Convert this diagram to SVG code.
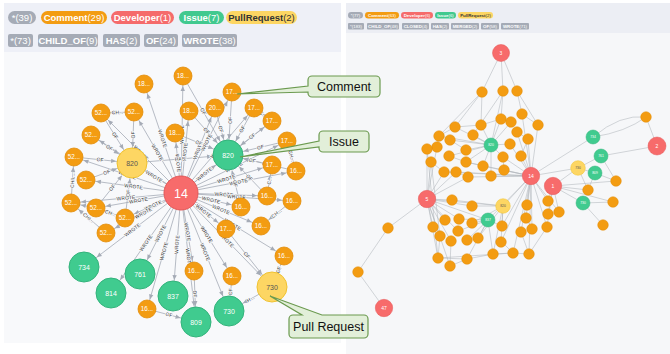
<svg xmlns="http://www.w3.org/2000/svg" width="670" height="354" viewBox="0 0 670 354">
<style>
text{font-family:"Liberation Sans",Arial,Helvetica,sans-serif}
.pt{font-size:9.5px;fill:#fff;text-anchor:middle}
.pts{font-size:4.4px;fill:#fff;text-anchor:middle}
.dk{fill:#333}
.g{fill:#a5abb6}.o{fill:#f39c12}.r{fill:#f56b6b}.gr{fill:#41c98f}.y{fill:#fdd663}
.e{fill:none;stroke:#a5abb6;stroke-width:0.8}
.mcE{marker-end:url(#mc)}.mcS{marker-start:url(#mc)}.mnE{marker-end:url(#mn)}.mnS{marker-start:url(#mn)}
.el{font-size:5px;fill:#333;stroke:#f8f9fb;stroke-width:1.4;paint-order:stroke;text-anchor:middle}
.cm{fill:#f39c12;stroke:#e28c06;stroke-width:0.8}
.is{fill:#40cb8f;stroke:#33b37b;stroke-width:1}
.pr{fill:#fdd663;stroke:#f0c230;stroke-width:1}
.dv{fill:#f76b6b;stroke:#e45757;stroke-width:1}
.nl{font-size:6.3px;fill:#fff;text-anchor:middle}
.nlb{font-size:7px;fill:#fff;text-anchor:middle}
.nld{font-size:7px;fill:#555;text-anchor:middle}
.re{stroke:#b1b5bc;stroke-width:0.55;fill:none}
.rcm{fill:#f39c12;stroke:#e28c06;stroke-width:0.5}
.ris{fill:#40cb8f;stroke:#33b37b;stroke-width:0.5}
.rpr{fill:#fdd663;stroke:#f0c230;stroke-width:0.5}
.rdv{fill:#f76b6b;stroke:#e45757;stroke-width:0.5}
.rl{font-size:5px;fill:#fff;text-anchor:middle}
.rls{font-size:3.4px;fill:#fff;text-anchor:middle}
.rld{font-size:3.4px;fill:#555;text-anchor:middle}
.co{fill:#e2efd9;stroke:#6b9a4f;stroke-width:1.2}
.ct{font-size:12.5px;fill:#111;text-anchor:middle}
</style>
<defs>
<marker id="mc" markerUnits="userSpaceOnUse" markerWidth="10" markerHeight="10" refX="10" refY="0" orient="auto-start-reverse" overflow="visible"><path d="M0,0 L-5,-2.2 L-5,2.2 Z" fill="#a5abb6"/></marker>
<marker id="mn" markerUnits="userSpaceOnUse" markerWidth="10" markerHeight="10" refX="16" refY="0" orient="auto-start-reverse" overflow="visible"><path d="M0,0 L-5,-2.2 L-5,2.2 Z" fill="#a5abb6"/></marker>
</defs>
<rect width="670" height="354" fill="#ffffff"/>
<rect x="4" y="3" width="337" height="340" fill="#f8f9fb"/>
<rect x="4" y="3" width="337" height="49" fill="#eef0f7"/>
<rect x="346" y="3" width="324" height="351" fill="#f6f7f9"/>
<rect x="346" y="3" width="324" height="30" fill="#eceef4"/>

<g id="legend-left">
<rect class="g" x="8" y="11" width="28" height="13" rx="6.5"/><text class="pt" x="22" y="21">*(39)</text>
<rect class="o" x="41" y="11" width="66" height="13" rx="6.5"/><text class="pt" x="74" y="21"><tspan font-weight="bold">Comment</tspan>(29)</text>
<rect class="r" x="111" y="11" width="63" height="13" rx="6.5"/><text class="pt" x="142.5" y="21"><tspan font-weight="bold">Developer</tspan>(1)</text>
<rect class="gr" x="179" y="11" width="45" height="13" rx="6.5"/><text class="pt" x="201.5" y="21"><tspan font-weight="bold">Issue</tspan>(7)</text>
<rect class="y" x="226" y="11" width="71" height="13" rx="6.5"/><text class="pt dk" x="261.5" y="21"><tspan font-weight="bold">PullRequest</tspan>(2)</text>
<rect class="g" x="8" y="34" width="25" height="13" rx="2"/><text class="pt" x="20.5" y="44">*(73)</text>
<rect class="g" x="38" y="34" width="60" height="13" rx="2"/><text class="pt" x="68" y="44"><tspan font-weight="bold">CHILD_OF</tspan>(9)</text>
<rect class="g" x="103" y="34" width="37" height="13" rx="2"/><text class="pt" x="121.5" y="44"><tspan font-weight="bold">HAS</tspan>(2)</text>
<rect class="g" x="144" y="34" width="34" height="13" rx="2"/><text class="pt" x="161" y="44"><tspan font-weight="bold">OF</tspan>(24)</text>
<rect class="g" x="182" y="34" width="55" height="13" rx="2"/><text class="pt" x="209.5" y="44"><tspan font-weight="bold">WROTE</tspan>(38)</text>
</g>

<g id="legend-right">
<rect class="g" x="348" y="12" width="15" height="6.5" rx="3.25"/><text class="pts" x="355.5" y="16.8">*(77)</text>
<rect class="o" x="365" y="12" width="34" height="6.5" rx="3.25"/><text class="pts" x="382" y="16.8"><tspan font-weight="bold">Comment</tspan>(63)</text>
<rect class="r" x="401" y="12" width="32" height="6.5" rx="3.25"/><text class="pts" x="417" y="16.8"><tspan font-weight="bold">Developer</tspan>(6)</text>
<rect class="gr" x="435" y="12" width="21" height="6.5" rx="3.25"/><text class="pts" x="445.5" y="16.8"><tspan font-weight="bold">Issue</tspan>(6)</text>
<rect class="y" x="458" y="12" width="35" height="6.5" rx="3.25"/><text class="pts dk" x="475.5" y="16.8"><tspan font-weight="bold">PullRequest</tspan>(2)</text>
<rect class="g" x="348" y="23" width="16" height="6.5" rx="1"/><text class="pts" x="356" y="27.8">*(183)</text>
<rect class="g" x="367" y="23" width="32" height="6.5" rx="1"/><text class="pts" x="383" y="27.8"><tspan font-weight="bold">CHILD_OF</tspan>(48)</text>
<rect class="g" x="402" y="23" width="27" height="6.5" rx="1"/><text class="pts" x="415.5" y="27.8"><tspan font-weight="bold">CLOSED</tspan>(4)</text>
<rect class="g" x="431" y="23" width="18" height="6.5" rx="1"/><text class="pts" x="440" y="27.8"><tspan font-weight="bold">HAS</tspan>(2)</text>
<rect class="g" x="451" y="23" width="28" height="6.5" rx="1"/><text class="pts" x="465" y="27.8"><tspan font-weight="bold">MERGED</tspan>(2)</text>
<rect class="g" x="481" y="23" width="18" height="6.5" rx="1"/><text class="pts" x="490" y="27.8"><tspan font-weight="bold">OF</tspan>(58)</text>
<rect class="g" x="501" y="23" width="28" height="6.5" rx="1"/><text class="pts" x="515" y="27.8"><tspan font-weight="bold">WROTE</tspan>(71)</text>
</g>

<g id="connectors-left">
<path id="w1" class="e mcS" d="M144 84 L181 193"/>
<path id="w2" class="e mcE" d="M181 193 L183 76"/>
<path id="w3" class="e mcS" d="M134 112 L181 193"/>
<path id="w4" class="e mcS" d="M101 113 L181 193"/>
<path id="w5" class="e mcE" d="M181 193 L189 111"/>
<path id="w6" class="e mcS" d="M91 135 L181 193"/>
<path id="w7" class="e mcS" d="M175 133 L181 193"/>
<path id="w8" class="e mcS" d="M74 157 L181 193"/>
<path id="w9" class="e mcS" d="M86 180 L181 193"/>
<path id="w10" class="e mcS" d="M71 203 L181 193"/>
<path id="w11" class="e mcS" d="M96 208 L181 193"/>
<path id="w12" class="e mcS" d="M125 218 L181 193"/>
<path id="w13" class="e mcS" d="M106 233 L181 193"/>
<path id="w14" class="e mcE" d="M181 193 L232 92"/>
<path id="w15" class="e mcE" d="M181 193 L215 108"/>
<path id="w16" class="e mcE" d="M181 193 L254 108"/>
<path id="w17" class="e mcE" d="M181 193 L272 121"/>
<path id="w18" class="e mcE" d="M181 193 L287 141"/>
<path id="w19" class="e mcE" d="M181 193 L272 165"/>
<path id="w20" class="e mcE" d="M181 193 L296 171"/>
<path id="w21" class="e mcE" d="M181 193 L267 196"/>
<path id="w22" class="e mcE" d="M181 193 L292 201"/>
<path id="w23" class="e mcE" d="M181 193 L241 207"/>
<path id="w24" class="e mcE" d="M181 193 L261 226"/>
<path id="w25" class="e mcE" d="M181 193 L226 229"/>
<path id="w26" class="e mcE" d="M181 193 L284 256"/>
<path id="w27" class="e mcE" d="M181 193 L194 271"/>
<path id="w28" class="e mcE" d="M181 193 L232 276"/>
<path id="w29" class="e mcS" d="M147 309 L181 193"/>
<path id="w30" class="e mnS" d="M132 163 L181 193"/>
<path id="w31" class="e mnE" d="M181 193 L272 287"/>
<path id="w32" class="e mnE" d="M181 193 L228 155"/>
<path id="w33" class="e mnS" d="M84 267 L181 193"/>
<path id="w34" class="e mnS" d="M140 274 L181 193"/>
<path id="w35" class="e mnS" d="M111 293 L181 193"/>
<path id="w36" class="e mnS" d="M173 296 L181 193"/>
<path id="w37" class="e mnE" d="M181 193 L196 322"/>
<path id="w38" class="e mnE" d="M181 193 L229 311"/>
<path id="o1" class="e mnS" d="M132 163 L134 112"/>
<path id="o2" class="e mnE" d="M101 113 L132 163"/>
<path id="o3" class="e mnE" d="M91 135 L132 163"/>
<path id="o4" class="e mnE" d="M74 157 L132 163"/>
<path id="o5" class="e mnE" d="M86 180 L132 163"/>
<path id="o6" class="e mnE" d="M96 208 L132 163"/>
<path id="o7" class="e mnE" d="M125 218 L132 163"/>
<path id="o8" class="e mnE" d="M183 76 L228 155"/>
<path id="o9" class="e mnE" d="M189 111 L228 155"/>
<path id="o10" class="e mnE" d="M175 133 L228 155"/>
<path id="o11" class="e mnS" d="M228 155 L232 92"/>
<path id="o12" class="e mnE" d="M215 108 L228 155"/>
<path id="o13" class="e mnS" d="M228 155 L254 108"/>
<path id="o14" class="e mnS" d="M228 155 L272 121"/>
<path id="o15" class="e mnS" d="M228 155 L287 141"/>
<path id="o16" class="e mnS" d="M228 155 L272 165"/>
<path id="o17" class="e mnS" d="M228 155 L296 171"/>
<path id="o18" class="e mnS" d="M228 155 L267 196"/>
<path id="o19" class="e mnS" d="M228 155 L241 207"/>
<path id="o20" class="e mnE" d="M147 309 L196 322"/>
<path id="o21" class="e mnE" d="M194 271 L196 322"/>
<path id="o22" class="e mnS" d="M229 311 L232 276"/>
<path id="o23" class="e mnE" d="M226 229 L272 287"/>
<path id="o24" class="e mnS" d="M272 287 L284 256"/>
<path id="h1" class="e mcS" d="M101 113 L134 112"/>
<path id="h2" class="e mcE" d="M71 203 L74 157"/>
<path id="h3" class="e mcS" d="M71 203 L96 208"/>
<path id="h4" class="e mcS" d="M71 203 L106 233"/>
<path id="h5" class="e mcS" d="M96 208 L125 218"/>
<path id="h6" class="e mcS" d="M261 226 L292 201"/>
<path id="h7" class="e mcS" d="M287 141 L296 171"/>
<path id="h8" class="e mcS" d="M254 108 L272 121"/>
<path id="h9" class="e mcE" d="M267 196 L272 165"/>
<path id="s1" class="e mnE" d="M132 163 L228 155"/>
<path id="s2" class="e mnS" d="M229 311 L272 287"/>
<g id="edge-labels">
<text class="el" dy="1.7"><textPath href="#w1" startOffset="50%">WROTE</textPath></text>
<text class="el" dy="1.7"><textPath href="#w2" startOffset="50%">WROTE</textPath></text>
<text class="el" dy="1.7"><textPath href="#w3" startOffset="50%">WROTE</textPath></text>
<text class="el" dy="1.7"><textPath href="#w4" startOffset="50%">WROTE</textPath></text>
<text class="el" dy="1.7"><textPath href="#w5" startOffset="50%">WROTE</textPath></text>
<text class="el" dy="1.7"><textPath href="#w6" startOffset="50%">WROTE</textPath></text>
<text class="el" dy="1.7"><textPath href="#w7" startOffset="50%">WROTE</textPath></text>
<text class="el" dy="1.7"><textPath href="#w8" startOffset="50%">WROTE</textPath></text>
<text class="el" dy="1.7"><textPath href="#w9" startOffset="50%">WROTE</textPath></text>
<text class="el" dy="1.7"><textPath href="#w10" startOffset="50%">WROTE</textPath></text>
<text class="el" dy="1.7"><textPath href="#w11" startOffset="50%">WROTE</textPath></text>
<text class="el" dy="1.7"><textPath href="#w12" startOffset="50%">WROTE</textPath></text>
<text class="el" dy="1.7"><textPath href="#w13" startOffset="50%">WROTE</textPath></text>
<text class="el" dy="1.7"><textPath href="#w14" startOffset="50%">WROTE</textPath></text>
<text class="el" dy="1.7"><textPath href="#w15" startOffset="50%">WROTE</textPath></text>
<text class="el" dy="1.7"><textPath href="#w16" startOffset="50%">WROTE</textPath></text>
<text class="el" dy="1.7"><textPath href="#w17" startOffset="50%">WROTE</textPath></text>
<text class="el" dy="1.7"><textPath href="#w18" startOffset="50%">WROTE</textPath></text>
<text class="el" dy="1.7"><textPath href="#w19" startOffset="50%">WROTE</textPath></text>
<text class="el" dy="1.7"><textPath href="#w20" startOffset="50%">WROTE</textPath></text>
<text class="el" dy="1.7"><textPath href="#w21" startOffset="50%">WROTE</textPath></text>
<text class="el" dy="1.7"><textPath href="#w22" startOffset="50%">WROTE</textPath></text>
<text class="el" dy="1.7"><textPath href="#w23" startOffset="50%">WROTE</textPath></text>
<text class="el" dy="1.7"><textPath href="#w24" startOffset="50%">WROTE</textPath></text>
<text class="el" dy="1.7"><textPath href="#w25" startOffset="50%">WROTE</textPath></text>
<text class="el" dy="1.7"><textPath href="#w26" startOffset="50%">WROTE</textPath></text>
<text class="el" dy="1.7"><textPath href="#w27" startOffset="50%">WROTE</textPath></text>
<text class="el" dy="1.7"><textPath href="#w28" startOffset="50%">WROTE</textPath></text>
<text class="el" dy="1.7"><textPath href="#w29" startOffset="50%">WROTE</textPath></text>
<text class="el" dy="1.7"><textPath href="#w30" startOffset="45%">WROTE</textPath></text>
<text class="el" dy="1.7"><textPath href="#w31" startOffset="50%">WROTE</textPath></text>
<text class="el" dy="1.7"><textPath href="#w32" startOffset="50%">WROTE</textPath></text>
<text class="el" dy="1.7"><textPath href="#w33" startOffset="50%">WROTE</textPath></text>
<text class="el" dy="1.7"><textPath href="#w34" startOffset="50%">WROTE</textPath></text>
<text class="el" dy="1.7"><textPath href="#w35" startOffset="50%">WROTE</textPath></text>
<text class="el" dy="1.7"><textPath href="#w36" startOffset="50%">WROTE</textPath></text>
<text class="el" dy="1.7"><textPath href="#w37" startOffset="50%">WROTE</textPath></text>
<text class="el" dy="1.7"><textPath href="#w38" startOffset="50%">WROTE</textPath></text>
<text class="el" dy="1.7"><textPath href="#o1" startOffset="55%">OF</textPath></text>
<text class="el" dy="1.7"><textPath href="#o2" startOffset="45%">OF</textPath></text>
<text class="el" dy="1.7"><textPath href="#o3" startOffset="45%">OF</textPath></text>
<text class="el" dy="1.7"><textPath href="#o4" startOffset="45%">OF</textPath></text>
<text class="el" dy="1.7"><textPath href="#o5" startOffset="45%">OF</textPath></text>
<text class="el" dy="1.7"><textPath href="#o6" startOffset="45%">OF</textPath></text>
<text class="el" dy="1.7"><textPath href="#o7" startOffset="45%">OF</textPath></text>
<text class="el" dy="1.7"><textPath href="#o8" startOffset="45%">OF</textPath></text>
<text class="el" dy="1.7"><textPath href="#o9" startOffset="45%">OF</textPath></text>
<text class="el" dy="1.7"><textPath href="#o10" startOffset="45%">OF</textPath></text>
<text class="el" dy="1.7"><textPath href="#o11" startOffset="55%">OF</textPath></text>
<text class="el" dy="1.7"><textPath href="#o12" startOffset="45%">OF</textPath></text>
<text class="el" dy="1.7"><textPath href="#o13" startOffset="55%">OF</textPath></text>
<text class="el" dy="1.7"><textPath href="#o14" startOffset="55%">OF</textPath></text>
<text class="el" dy="1.7"><textPath href="#o15" startOffset="55%">OF</textPath></text>
<text class="el" dy="1.7"><textPath href="#o16" startOffset="55%">OF</textPath></text>
<text class="el" dy="1.7"><textPath href="#o17" startOffset="55%">OF</textPath></text>
<text class="el" dy="1.7"><textPath href="#o18" startOffset="55%">OF</textPath></text>
<text class="el" dy="1.7"><textPath href="#o19" startOffset="55%">OF</textPath></text>
<text class="el" dy="1.7"><textPath href="#o20" startOffset="45%">OF</textPath></text>
<text class="el" dy="1.7"><textPath href="#o21" startOffset="45%">OF</textPath></text>
<text class="el" dy="1.7"><textPath href="#o22" startOffset="55%">OF</textPath></text>
<text class="el" dy="1.7"><textPath href="#o23" startOffset="45%">OF</textPath></text>
<text class="el" dy="1.7"><textPath href="#o24" startOffset="55%">OF</textPath></text>
<text class="el" dy="1.7"><textPath href="#h1" startOffset="50%">CH...</textPath></text>
<text class="el" dy="1.7"><textPath href="#h2" startOffset="50%">CHIL...</textPath></text>
<text class="el" dy="1.7"><textPath href="#h4" startOffset="50%">CHI...</textPath></text>
<text class="el" dy="1.7"><textPath href="#h5" startOffset="50%">CH...</textPath></text>
<text class="el" dy="1.7"><textPath href="#h6" startOffset="50%">CH...</textPath></text>
<text class="el" dy="1.7"><textPath href="#h7" startOffset="50%">CH...</textPath></text>
<text class="el" dy="1.7"><textPath href="#h8" startOffset="50%">C...</textPath></text>
<text class="el" dy="1.7"><textPath href="#h9" startOffset="50%">C...</textPath></text>
<text class="el" dy="1.7"><textPath href="#s1" startOffset="50%">HAS</textPath></text>
<text class="el" dy="1.7"><textPath href="#s2" startOffset="50%">H...</textPath></text>
</g>
</g>

<g id="n-d14"><circle class="dv" cx="181" cy="193" r="17"/><text x="181" y="197.5" font-size="12.5" fill="#fff" text-anchor="middle">14</text></g>
<g id="n-p820"><circle class="pr" cx="132" cy="163" r="15"/><text class="nld" x="132" y="165.5">820</text></g>
<g id="n-p730"><circle class="pr" cx="272" cy="287" r="15"/><text class="nld" x="272" y="289.5">730</text></g>
<g id="n-i820"><circle class="is" cx="228" cy="155" r="15"/><text class="nlb" x="228" y="157.5">820</text></g>
<g id="n-i734"><circle class="is" cx="84" cy="267" r="15"/><text class="nlb" x="84" y="269.5">734</text></g>
<g id="n-i761"><circle class="is" cx="140" cy="274" r="15"/><text class="nlb" x="140" y="276.5">761</text></g>
<g id="n-i814"><circle class="is" cx="111" cy="293" r="15"/><text class="nlb" x="111" y="295.5">814</text></g>
<g id="n-i837"><circle class="is" cx="173" cy="296" r="15"/><text class="nlb" x="173" y="298.5">837</text></g>
<g id="n-i809"><circle class="is" cx="196" cy="322" r="15"/><text class="nlb" x="196" y="324.5">809</text></g>
<g id="n-i730"><circle class="is" cx="229" cy="311" r="15"/><text class="nlb" x="229" y="313.5">730</text></g>
<g id="n-c1"><circle class="cm" cx="144" cy="84" r="9"/><text class="nl" x="144" y="86.2">18...</text></g>
<g id="n-c2"><circle class="cm" cx="183" cy="76" r="9"/><text class="nl" x="183" y="78.2">18...</text></g>
<g id="n-c3"><circle class="cm" cx="134" cy="112" r="9"/><text class="nl" x="134" y="114.2">52...</text></g>
<g id="n-c4"><circle class="cm" cx="101" cy="113" r="9"/><text class="nl" x="101" y="115.2">52...</text></g>
<g id="n-c5"><circle class="cm" cx="189" cy="111" r="9"/><text class="nl" x="189" y="113.2">18...</text></g>
<g id="n-c6"><circle class="cm" cx="91" cy="135" r="9"/><text class="nl" x="91" y="137.2">52...</text></g>
<g id="n-c7"><circle class="cm" cx="175" cy="133" r="9"/><text class="nl" x="175" y="135.2">18...</text></g>
<g id="n-c8"><circle class="cm" cx="74" cy="157" r="9"/><text class="nl" x="74" y="159.2">52...</text></g>
<g id="n-c9"><circle class="cm" cx="86" cy="180" r="9"/><text class="nl" x="86" y="182.2">52...</text></g>
<g id="n-c10"><circle class="cm" cx="71" cy="203" r="9"/><text class="nl" x="71" y="205.2">52...</text></g>
<g id="n-c11"><circle class="cm" cx="96" cy="208" r="9"/><text class="nl" x="96" y="210.2">52...</text></g>
<g id="n-c12"><circle class="cm" cx="125" cy="218" r="9"/><text class="nl" x="125" y="220.2">52...</text></g>
<g id="n-c13"><circle class="cm" cx="106" cy="233" r="9"/><text class="nl" x="106" y="235.2">52...</text></g>
<g id="n-c14"><circle class="cm" cx="232" cy="92" r="9"/><text class="nl" x="232" y="94.2">17...</text></g>
<g id="n-c15"><circle class="cm" cx="215" cy="108" r="9"/><text class="nl" x="215" y="110.2">20...</text></g>
<g id="n-c16"><circle class="cm" cx="254" cy="108" r="9"/><text class="nl" x="254" y="110.2">17...</text></g>
<g id="n-c17"><circle class="cm" cx="272" cy="121" r="9"/><text class="nl" x="272" y="123.2">17...</text></g>
<g id="n-c18"><circle class="cm" cx="287" cy="141" r="9"/><text class="nl" x="287" y="143.2">17...</text></g>
<g id="n-c19"><circle class="cm" cx="272" cy="165" r="9"/><text class="nl" x="272" y="167.2">17...</text></g>
<g id="n-c20"><circle class="cm" cx="296" cy="171" r="9"/><text class="nl" x="296" y="173.2">16...</text></g>
<g id="n-c21"><circle class="cm" cx="267" cy="196" r="9"/><text class="nl" x="267" y="198.2">16...</text></g>
<g id="n-c22"><circle class="cm" cx="292" cy="201" r="9"/><text class="nl" x="292" y="203.2">16...</text></g>
<g id="n-c23"><circle class="cm" cx="241" cy="207" r="9"/><text class="nl" x="241" y="209.2">16...</text></g>
<g id="n-c24"><circle class="cm" cx="261" cy="226" r="9"/><text class="nl" x="261" y="228.2">16...</text></g>
<g id="n-c25"><circle class="cm" cx="226" cy="229" r="9"/><text class="nl" x="226" y="231.2">17...</text></g>
<g id="n-c26"><circle class="cm" cx="284" cy="256" r="9"/><text class="nl" x="284" y="258.2">16...</text></g>
<g id="n-c27"><circle class="cm" cx="194" cy="271" r="9"/><text class="nl" x="194" y="273.2">16...</text></g>
<g id="n-c28"><circle class="cm" cx="232" cy="276" r="9"/><text class="nl" x="232" y="278.2">16...</text></g>
<g id="n-c29"><circle class="cm" cx="147" cy="309" r="9"/><text class="nl" x="147" y="311.2">16...</text></g>

<g id="connectors-right">
<line class="re" x1="501" y1="53" x2="482" y2="92"/><line class="re" x1="501" y1="53" x2="503" y2="91"/><line class="re" x1="501" y1="53" x2="517" y2="91"/>
<line class="re" x1="482" y1="92" x2="455" y2="127"/><line class="re" x1="482" y1="92" x2="439" y2="136"/><line class="re" x1="482" y1="92" x2="481" y2="125"/>
<line class="re" x1="503" y1="91" x2="501" y2="119"/><line class="re" x1="517" y1="91" x2="522" y2="114"/><line class="re" x1="517" y1="91" x2="538" y2="125"/><line class="re" x1="503" y1="91" x2="491" y2="145"/>
<line class="re" x1="491" y1="145" x2="466" y2="150"/><line class="re" x1="491" y1="145" x2="473" y2="135"/><line class="re" x1="491" y1="145" x2="481" y2="125"/><line class="re" x1="491" y1="145" x2="501" y2="119"/><line class="re" x1="491" y1="145" x2="503" y2="157"/><line class="re" x1="491" y1="145" x2="483" y2="166"/><line class="re" x1="491" y1="145" x2="510" y2="144"/><line class="re" x1="491" y1="145" x2="491" y2="176"/><line class="re" x1="491" y1="145" x2="449" y2="156"/><line class="re" x1="491" y1="145" x2="450" y2="140"/><line class="re" x1="491" y1="145" x2="455" y2="127"/><line class="re" x1="491" y1="145" x2="466" y2="162"/><line class="re" x1="491" y1="145" x2="511" y2="122"/><line class="re" x1="491" y1="145" x2="439" y2="136"/>
<line class="re" x1="531" y1="176" x2="538" y2="125"/><line class="re" x1="531" y1="176" x2="517" y2="132"/><line class="re" x1="531" y1="176" x2="528" y2="139"/><line class="re" x1="531" y1="176" x2="521" y2="156"/><line class="re" x1="531" y1="176" x2="504" y2="170"/><line class="re" x1="531" y1="176" x2="491" y2="176"/><line class="re" x1="531" y1="176" x2="510" y2="144"/><line class="re" x1="531" y1="176" x2="503" y2="157"/><line class="re" x1="531" y1="176" x2="522" y2="114"/><line class="re" x1="531" y1="176" x2="593" y2="137"/><line class="re" x1="531" y1="176" x2="578" y2="168"/><line class="re" x1="531" y1="176" x2="527" y2="205"/><line class="re" x1="531" y1="176" x2="548" y2="201"/><line class="re" x1="531" y1="176" x2="526" y2="218"/><line class="re" x1="531" y1="176" x2="532" y2="229"/><line class="re" x1="531" y1="176" x2="547" y2="227"/><line class="re" x1="531" y1="176" x2="521" y2="232"/><line class="re" x1="531" y1="176" x2="503" y2="206"/><line class="re" x1="531" y1="176" x2="502" y2="226"/><line class="re" x1="531" y1="176" x2="468" y2="177"/><line class="re" x1="531" y1="176" x2="483" y2="166"/><line class="re" x1="531" y1="176" x2="466" y2="162"/><line class="re" x1="531" y1="176" x2="456" y2="172"/><line class="re" x1="531" y1="176" x2="488" y2="220"/><line class="re" x1="531" y1="176" x2="559" y2="212"/><line class="re" x1="531" y1="176" x2="513" y2="253"/><line class="re" x1="531" y1="176" x2="529" y2="254"/><line class="re" x1="531" y1="176" x2="501" y2="242"/><line class="re" x1="531" y1="176" x2="444" y2="172"/>
<line class="re" x1="553" y1="186" x2="588" y2="190"/><line class="re" x1="553" y1="186" x2="583" y2="203"/><line class="re" x1="553" y1="186" x2="548" y2="214"/><line class="re" x1="553" y1="186" x2="559" y2="212"/><line class="re" x1="553" y1="186" x2="548" y2="201"/><line class="re" x1="553" y1="186" x2="616" y2="181"/><line class="re" x1="553" y1="186" x2="547" y2="227"/><line class="re" x1="553" y1="186" x2="613" y2="202"/><line class="re" x1="553" y1="186" x2="578" y2="168"/>
<line class="re" x1="427" y1="199" x2="452" y2="200"/><line class="re" x1="427" y1="199" x2="472" y2="206"/><line class="re" x1="427" y1="199" x2="433" y2="227"/><line class="re" x1="427" y1="199" x2="445" y2="220"/><line class="re" x1="427" y1="199" x2="459" y2="219"/><line class="re" x1="427" y1="199" x2="440" y2="236"/><line class="re" x1="427" y1="199" x2="458" y2="231"/><line class="re" x1="427" y1="199" x2="451" y2="241"/><line class="re" x1="427" y1="199" x2="388" y2="228"/><line class="re" x1="427" y1="199" x2="427" y2="149"/><line class="re" x1="427" y1="199" x2="431" y2="162"/><line class="re" x1="427" y1="199" x2="437" y2="147"/><line class="re" x1="427" y1="199" x2="444" y2="172"/><line class="re" x1="427" y1="199" x2="456" y2="172"/><line class="re" x1="427" y1="199" x2="468" y2="177"/><line class="re" x1="427" y1="199" x2="503" y2="206"/><line class="re" x1="427" y1="199" x2="488" y2="220"/><line class="re" x1="427" y1="199" x2="438" y2="258"/><line class="re" x1="427" y1="199" x2="450" y2="266"/>
<line class="re" x1="388" y1="228" x2="358" y2="272"/><line class="re" x1="358" y1="272" x2="384" y2="308"/>
<line class="re" x1="657" y1="146" x2="646" y2="117"/><line class="re" x1="657" y1="146" x2="601" y2="156"/>
<path class="re" d="M646 117 Q620 114 593 137"/><path class="re" d="M646 117 Q626 132 593 137"/>
<line class="re" x1="601" y1="156" x2="616" y2="181"/><line class="re" x1="595" y1="173" x2="616" y2="181"/><line class="re" x1="595" y1="173" x2="588" y2="190"/><line class="re" x1="578" y1="168" x2="595" y2="173"/><line class="re" x1="578" y1="168" x2="601" y2="156"/><line class="re" x1="578" y1="168" x2="588" y2="190"/>
<line class="re" x1="583" y1="203" x2="603" y2="225"/><line class="re" x1="583" y1="203" x2="613" y2="202"/>
<line class="re" x1="503" y1="206" x2="472" y2="206"/><line class="re" x1="503" y1="206" x2="502" y2="226"/><line class="re" x1="503" y1="206" x2="501" y2="242"/><line class="re" x1="503" y1="206" x2="493" y2="254"/><line class="re" x1="503" y1="206" x2="478" y2="238"/><line class="re" x1="503" y1="206" x2="472" y2="223"/><line class="re" x1="503" y1="206" x2="452" y2="200"/>
<line class="re" x1="488" y1="220" x2="459" y2="219"/><line class="re" x1="488" y1="220" x2="472" y2="223"/><line class="re" x1="488" y1="220" x2="467" y2="240"/><line class="re" x1="488" y1="220" x2="478" y2="238"/><line class="re" x1="488" y1="220" x2="493" y2="254"/><line class="re" x1="488" y1="220" x2="467" y2="259"/><line class="re" x1="488" y1="220" x2="502" y2="226"/><line class="re" x1="488" y1="220" x2="458" y2="231"/>
<line class="re" x1="438" y1="258" x2="467" y2="259"/><line class="re" x1="467" y1="259" x2="493" y2="254"/><line class="re" x1="493" y1="254" x2="513" y2="253"/><line class="re" x1="513" y1="253" x2="529" y2="254"/><line class="re" x1="450" y1="266" x2="467" y2="259"/><line class="re" x1="440" y1="236" x2="438" y2="258"/><line class="re" x1="427" y1="149" x2="438" y2="258"/><line class="re" x1="431" y1="162" x2="440" y2="236"/><line class="re" x1="451" y1="241" x2="450" y2="266"/><line class="re" x1="521" y1="232" x2="529" y2="254"/><line class="re" x1="502" y1="242" x2="513" y2="253"/><line class="re" x1="526" y1="218" x2="532" y2="229"/><line class="re" x1="547" y1="227" x2="529" y2="254"/><line class="re" x1="438" y1="258" x2="513" y2="253"/>
<line class="re" x1="427" y1="149" x2="437" y2="147"/><line class="re" x1="437" y1="147" x2="439" y2="136"/><line class="re" x1="439" y1="136" x2="455" y2="127"/><line class="re" x1="455" y1="127" x2="481" y2="125"/><line class="re" x1="481" y1="125" x2="501" y2="119"/><line class="re" x1="450" y1="140" x2="466" y2="150"/><line class="re" x1="449" y1="156" x2="466" y2="162"/><line class="re" x1="431" y1="162" x2="444" y2="172"/><line class="re" x1="444" y1="172" x2="456" y2="172"/><line class="re" x1="456" y1="172" x2="468" y2="177"/><line class="re" x1="466" y1="162" x2="483" y2="166"/><line class="re" x1="503" y1="157" x2="504" y2="170"/><line class="re" x1="521" y1="156" x2="528" y2="139"/><line class="re" x1="517" y1="132" x2="528" y2="139"/><line class="re" x1="522" y1="114" x2="538" y2="125"/><line class="re" x1="473" y1="135" x2="503" y2="91"/>
</g>

<g id="rn-d3"><circle class="rdv" cx="501" cy="53" r="8.5"/><text class="rl" x="501" y="54.8">3</text></g>
<g id="rn-d14"><circle class="rdv" cx="531" cy="176" r="8.7"/><text class="rl" x="531" y="177.8">14</text></g>
<g id="rn-d1"><circle class="rdv" cx="553" cy="186" r="8.7"/><text class="rl" x="553" y="187.8">1</text></g>
<g id="rn-d2"><circle class="rdv" cx="657" cy="146" r="9"/><text class="rl" x="657" y="147.8">2</text></g>
<g id="rn-d5"><circle class="rdv" cx="427" cy="199" r="8.7"/><text class="rl" x="427" y="200.8">5</text></g>
<g id="rn-d47"><circle class="rdv" cx="384" cy="308" r="8.7"/><text class="rl" x="384" y="309.8">47</text></g>
<g id="rn-i820"><circle class="ris" cx="491" cy="145" r="7"/><text class="rls" x="491" y="146.2">820</text></g>
<g id="rn-i734"><circle class="ris" cx="593" cy="137" r="7"/><text class="rls" x="593" y="138.2">734</text></g>
<g id="rn-i761"><circle class="ris" cx="601" cy="156" r="7"/><text class="rls" x="601" y="157.2">761</text></g>
<g id="rn-i809"><circle class="ris" cx="595" cy="173" r="7"/><text class="rls" x="595" y="174.2">809</text></g>
<g id="rn-i730"><circle class="ris" cx="583" cy="203" r="7"/><text class="rls" x="583" y="204.2">730</text></g>
<g id="rn-i837"><circle class="ris" cx="488" cy="220" r="7"/><text class="rls" x="488" y="221.2">837</text></g>
<g id="rn-p730"><circle class="rpr" cx="578" cy="168" r="7.3"/><text class="rld" x="578" y="169.2">730</text></g>
<g id="rn-p820"><circle class="rpr" cx="503" cy="206" r="7.3"/><text class="rld" x="503" y="207.2">820</text></g>
<g id="rn-c1"><circle class="rcm" cx="482" cy="92" r="5.3"/></g>
<g id="rn-c2"><circle class="rcm" cx="503" cy="91" r="5.3"/></g>
<g id="rn-c3"><circle class="rcm" cx="517" cy="91" r="5.3"/></g>
<g id="rn-c4"><circle class="rcm" cx="501" cy="119" r="5.3"/></g>
<g id="rn-c5"><circle class="rcm" cx="511" cy="122" r="5.3"/></g>
<g id="rn-c6"><circle class="rcm" cx="522" cy="114" r="5.3"/></g>
<g id="rn-c7"><circle class="rcm" cx="481" cy="125" r="5.3"/></g>
<g id="rn-c8"><circle class="rcm" cx="455" cy="127" r="5.3"/></g>
<g id="rn-c9"><circle class="rcm" cx="439" cy="136" r="5.3"/></g>
<g id="rn-c10"><circle class="rcm" cx="450" cy="140" r="5.3"/></g>
<g id="rn-c11"><circle class="rcm" cx="473" cy="135" r="5.3"/></g>
<g id="rn-c12"><circle class="rcm" cx="437" cy="147" r="5.3"/></g>
<g id="rn-c13"><circle class="rcm" cx="427" cy="149" r="5.3"/></g>
<g id="rn-c14"><circle class="rcm" cx="510" cy="144" r="5.3"/></g>
<g id="rn-c15"><circle class="rcm" cx="466" cy="150" r="5.3"/></g>
<g id="rn-c16"><circle class="rcm" cx="449" cy="156" r="5.3"/></g>
<g id="rn-c17"><circle class="rcm" cx="466" cy="162" r="5.3"/></g>
<g id="rn-c18"><circle class="rcm" cx="503" cy="157" r="5.3"/></g>
<g id="rn-c19"><circle class="rcm" cx="431" cy="162" r="5.3"/></g>
<g id="rn-c20"><circle class="rcm" cx="483" cy="166" r="5.3"/></g>
<g id="rn-c21"><circle class="rcm" cx="444" cy="172" r="5.3"/></g>
<g id="rn-c22"><circle class="rcm" cx="456" cy="172" r="5.3"/></g>
<g id="rn-c23"><circle class="rcm" cx="468" cy="177" r="5.3"/></g>
<g id="rn-c24"><circle class="rcm" cx="491" cy="176" r="5.3"/></g>
<g id="rn-c25"><circle class="rcm" cx="504" cy="170" r="5.3"/></g>
<g id="rn-c26"><circle class="rcm" cx="538" cy="125" r="5.3"/></g>
<g id="rn-c27"><circle class="rcm" cx="517" cy="132" r="5.3"/></g>
<g id="rn-c28"><circle class="rcm" cx="528" cy="139" r="5.3"/></g>
<g id="rn-c29"><circle class="rcm" cx="521" cy="156" r="5.3"/></g>
<g id="rn-c30"><circle class="rcm" cx="646" cy="117" r="5.3"/></g>
<g id="rn-c31"><circle class="rcm" cx="616" cy="181" r="5.3"/></g>
<g id="rn-c32"><circle class="rcm" cx="588" cy="190" r="5.3"/></g>
<g id="rn-c33"><circle class="rcm" cx="452" cy="200" r="5.3"/></g>
<g id="rn-c34"><circle class="rcm" cx="472" cy="206" r="5.3"/></g>
<g id="rn-c35"><circle class="rcm" cx="388" cy="228" r="5.3"/></g>
<g id="rn-c36"><circle class="rcm" cx="433" cy="227" r="5.3"/></g>
<g id="rn-c37"><circle class="rcm" cx="445" cy="220" r="5.3"/></g>
<g id="rn-c38"><circle class="rcm" cx="459" cy="219" r="5.3"/></g>
<g id="rn-c39"><circle class="rcm" cx="472" cy="223" r="5.3"/></g>
<g id="rn-c40"><circle class="rcm" cx="502" cy="226" r="5.3"/></g>
<g id="rn-c41"><circle class="rcm" cx="440" cy="236" r="5.3"/></g>
<g id="rn-c42"><circle class="rcm" cx="458" cy="231" r="5.3"/></g>
<g id="rn-c43"><circle class="rcm" cx="451" cy="241" r="5.3"/></g>
<g id="rn-c44"><circle class="rcm" cx="467" cy="240" r="5.3"/></g>
<g id="rn-c45"><circle class="rcm" cx="478" cy="238" r="5.3"/></g>
<g id="rn-c46"><circle class="rcm" cx="501" cy="242" r="5.3"/></g>
<g id="rn-c47"><circle class="rcm" cx="493" cy="254" r="5.3"/></g>
<g id="rn-c48"><circle class="rcm" cx="438" cy="258" r="5.3"/></g>
<g id="rn-c49"><circle class="rcm" cx="467" cy="259" r="5.3"/></g>
<g id="rn-c50"><circle class="rcm" cx="450" cy="266" r="5.3"/></g>
<g id="rn-c51"><circle class="rcm" cx="358" cy="272" r="5.3"/></g>
<g id="rn-c52"><circle class="rcm" cx="613" cy="202" r="5.3"/></g>
<g id="rn-c53"><circle class="rcm" cx="603" cy="225" r="5.3"/></g>
<g id="rn-c54"><circle class="rcm" cx="527" cy="205" r="5.3"/></g>
<g id="rn-c55"><circle class="rcm" cx="548" cy="201" r="5.3"/></g>
<g id="rn-c56"><circle class="rcm" cx="559" cy="212" r="5.3"/></g>
<g id="rn-c57"><circle class="rcm" cx="548" cy="214" r="5.3"/></g>
<g id="rn-c58"><circle class="rcm" cx="526" cy="218" r="5.3"/></g>
<g id="rn-c59"><circle class="rcm" cx="532" cy="229" r="5.3"/></g>
<g id="rn-c60"><circle class="rcm" cx="547" cy="227" r="5.3"/></g>
<g id="rn-c61"><circle class="rcm" cx="521" cy="232" r="5.3"/></g>
<g id="rn-c62"><circle class="rcm" cx="513" cy="253" r="5.3"/></g>
<g id="rn-c63"><circle class="rcm" cx="529" cy="254" r="5.3"/></g>

<g id="callout-comment"><path class="co" d="M312,76 H376 A4,4 0 0 1 380,80 V93 A4,4 0 0 1 376,97 H312 A4,4 0 0 1 308,93 V92 L237,94 L308,86 V80 A4,4 0 0 1 312,76 Z"/><text class="ct" x="344" y="91">Comment</text></g>
<g id="callout-issue"><path class="co" d="M323,131 H365 A4,4 0 0 1 369,135 V148 A4,4 0 0 1 365,152 H323 A4,4 0 0 1 319,148 V147 L240,157 L319,141 V135 A4,4 0 0 1 323,131 Z"/><text class="ct" x="344" y="146">Issue</text></g>
<g id="callout-pr"><path class="co" d="M293,315 H302 L270,296 L322,315 H364 A4,4 0 0 1 368,319 V334 A4,4 0 0 1 364,338 H293 A4,4 0 0 1 289,334 V319 A4,4 0 0 1 293,315 Z"/><text class="ct" x="328.5" y="331">Pull Request</text></g>
</svg>
